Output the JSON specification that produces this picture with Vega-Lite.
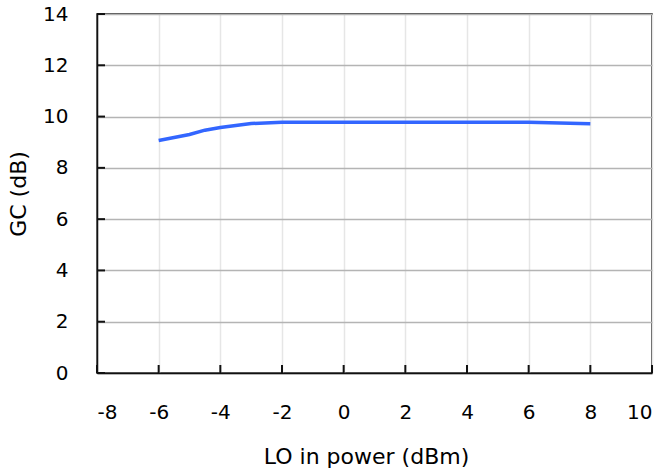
{
  "$schema": "https://vega.github.io/schema/vega-lite/v6.json",
  "width": 555,
  "height": 359,
  "autosize": {"type": "none"},
  "padding": {"left": 97, "top": 14, "right": 16, "bottom": 102},
  "background": "white",
  "config": {
    "view": {"stroke": "#111111", "strokeWidth": 1.5},
    "font": "DejaVu Sans",
    "axis": {
      "labelFont": "DejaVu Sans",
      "titleFont": "DejaVu Sans",
      "labelFontSize": 20,
      "titleFontSize": 22,
      "labelColor": "#000000",
      "titleColor": "#000000",
      "titleFontWeight": "normal",
      "domainColor": "#111111",
      "domainWidth": 1.5,
      "ticks": false,
      "labelExpr": "'' + datum.value"
    }
  },
  "datasets": {
    "curve": [
      {"lo": -6, "gc": 9.07},
      {"lo": -5, "gc": 9.3},
      {"lo": -4.5, "gc": 9.47},
      {"lo": -4, "gc": 9.57},
      {"lo": -3, "gc": 9.73},
      {"lo": -2, "gc": 9.78},
      {"lo": -1, "gc": 9.78},
      {"lo": 0, "gc": 9.78},
      {"lo": 1, "gc": 9.78},
      {"lo": 2, "gc": 9.78},
      {"lo": 3, "gc": 9.78},
      {"lo": 4, "gc": 9.78},
      {"lo": 5, "gc": 9.78},
      {"lo": 6, "gc": 9.78},
      {"lo": 8, "gc": 9.72}
    ],
    "xticks": [
      {"lo": -8, "gc": 0}, {"lo": -6, "gc": 0}, {"lo": -4, "gc": 0}, {"lo": -2, "gc": 0},
      {"lo": 0, "gc": 0}, {"lo": 2, "gc": 0}, {"lo": 4, "gc": 0}, {"lo": 6, "gc": 0},
      {"lo": 8, "gc": 0}, {"lo": 10, "gc": 0}
    ],
    "yticks": [
      {"lo": -8, "gc": 0}, {"lo": -8, "gc": 2}, {"lo": -8, "gc": 4}, {"lo": -8, "gc": 6},
      {"lo": -8, "gc": 8}, {"lo": -8, "gc": 10}, {"lo": -8, "gc": 12}, {"lo": -8, "gc": 14}
    ]
  },
  "encoding": {
    "x": {
      "field": "lo",
      "type": "quantitative",
      "title": "LO in power (dBm)",
      "scale": {"domain": [-8, 10], "nice": false, "zero": false},
      "axis": {
        "values": [-8, -6, -4, -2, 0, 2, 4, 6, 8, 10],
        "grid": true,
        "gridColor": "#e6e6e6",
        "gridWidth": 1.5,
        "labelPadding": 29,
        "titlePadding": 24,
        "titleX": 269
      }
    },
    "y": {
      "field": "gc",
      "type": "quantitative",
      "title": "GC (dB)",
      "scale": {"domain": [0, 14], "nice": false},
      "axis": {
        "values": [0, 2, 4, 6, 8, 10, 12, 14],
        "grid": true,
        "gridColor": "#b4b4b4",
        "gridWidth": 1.5,
        "labelPadding": 29,
        "titlePadding": 12
      }
    }
  },
  "layer": [
    {
      "data": {"name": "curve"},
      "mark": {"type": "line", "color": "#3366FF", "strokeWidth": 3.5}
    },
    {
      "data": {"name": "xticks"},
      "mark": {"type": "point", "shape": "M0,0V-1", "size": 256, "filled": false, "stroke": "#111111", "strokeWidth": 2, "opacity": 1}
    },
    {
      "data": {"name": "yticks"},
      "mark": {"type": "point", "shape": "M0,0H1", "size": 256, "filled": false, "stroke": "#111111", "strokeWidth": 2, "opacity": 1}
    }
  ]
}
